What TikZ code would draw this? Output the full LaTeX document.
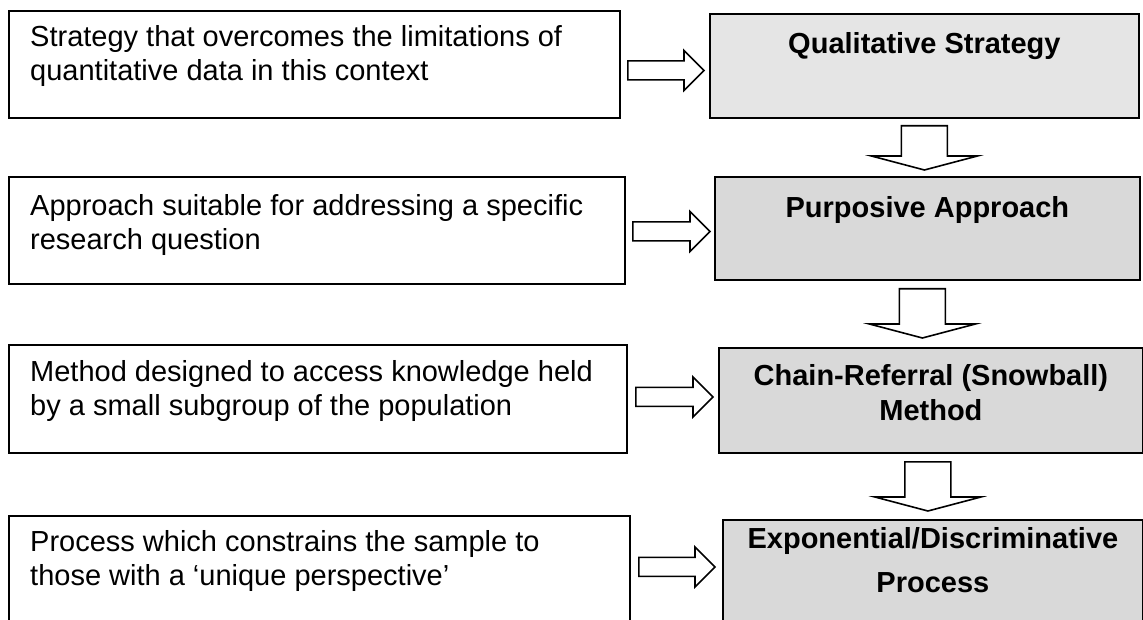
\documentclass[tikz,border=0pt]{standalone}
\usepackage{fontspec}
\setmainfont{Liberation Sans}
\usetikzlibrary{calc}

% hollow block arrows: #1 = tail point, #2 = tip point
\newcommand\rightblock[2]{%
  \draw[blockarrow] let \p1=(#1), \p2=(#2) in
    (\x1,\y1+9.5pt) -- (\x2-20pt,\y1+9.5pt) -- (\x2-20pt,\y1+20pt) -- (\x2,\y1)
    -- (\x2-20pt,\y1-20pt) -- (\x2-20pt,\y1-9.5pt) -- (\x1,\y1-9.5pt) -- cycle;}
\newcommand\downblock[2]{%
  \draw[blockarrow] let \p1=(#1), \p2=(#2) in
    (\x1-23pt,\y1) -- (\x1+23pt,\y1) -- (\x1+23pt,\y2+14pt) -- (\x1+53pt,\y2+14pt)
    -- (\x1,\y2) -- (\x1-53pt,\y2+14pt) -- (\x1-23pt,\y2+14pt) -- cycle;}

\begin{document}
\begin{tikzpicture}[x=1pt,y=-1pt,
  box/.style={draw=black, line width=1.8pt, rectangle, inner sep=0pt, anchor=north west},
  plainbox/.style={box, fill=white},
  lightbox/.style={box, fill=black!10},
  greybox/.style={box, fill=black!15},
  desc/.style={anchor=north west, inner sep=0pt, align=left,
    font=\fontsize{29}{34.5}\selectfont, execute at begin node=\rule{0pt}{23pt}},
  title/.style={anchor=north, inner sep=0pt, align=center,
    font=\fontsize{29}{35}\selectfont\bfseries, execute at begin node=\rule{0pt}{23pt}},
  blockarrow/.style={draw=black, line width=1.6pt, fill=white, line join=miter}
]
\useasboundingbox (0,0) rectangle (1143,620);
\clip (0,0) rectangle (1143,620);
\fill[white] (0,0) rectangle (1143,620);

% left-hand descriptions
\node[plainbox, minimum width=611pt, minimum height=107pt] (l1) at (8,10) {};
\node[plainbox, minimum width=616pt, minimum height=107pt] (l2) at (8,176) {};
\node[plainbox, minimum width=618pt, minimum height=108pt] (l3) at (8,344) {};
\node[plainbox, minimum width=621pt, minimum height=108pt] (l4) at (8,515) {};

% right-hand stages
\node[lightbox, minimum width=429pt, minimum height=104pt] (r1) at (709,13) {};
\node[greybox, minimum width=425pt, minimum height=103pt] (r2) at (714,176) {};
\node[greybox, minimum width=424pt, minimum height=105pt] (r3) at (718,347) {};
\node[greybox, minimum width=420pt, minimum height=110pt] (r4) at (722,519) {};

% texts
\node[desc] (t1) at ([xshift=22pt,yshift=-15pt]l1.north west)
  {Strategy that overcomes the limitations of\\quantitative data in this context};
\node[desc] (t2) at ([xshift=22pt,yshift=-18pt]l2.north west)
  {Approach suitable for addressing a specific\\research question};
\node[desc] (t3) at ([xshift=22pt,yshift=-16pt]l3.north west)
  {Method designed to access knowledge held\\by a small subgroup of the population};
\node[desc] (t4) at ([xshift=22pt,yshift=-15pt]l4.north west)
  {Process which constrains the sample to\\those with a ‘unique perspective’};

\node[title] (s1) at ([yshift=-17.5pt]r1.north) {Qualitative Strategy};
\node[title] (s2) at ([yshift=-18.5pt]r2.north) {Purposive Approach};
\node[title] (s3) at ([yshift=-17.5pt]r3.north) {Chain-Referral (Snowball)\\Method};
\node[title] (s4) at ([yshift=-8.5pt]r4.north) {Exponential/Discriminative\\[9pt]Process};

% arrows from each description to its stage
\rightblock{[xshift=7pt,yshift=-6pt]l1.east}{[xshift=-5pt]r1.west}
\rightblock{[xshift=7pt,yshift=-1pt]l2.east}{[xshift=-4pt]r2.west}
\rightblock{[xshift=8pt,yshift=2pt]l3.east}{[xshift=-5pt]r3.west}
\rightblock{[xshift=8pt,yshift=3pt]l4.east}{[xshift=-7pt]r4.west}

% arrows between stages
\downblock{[yshift=-7pt]r1.south}{[yshift=6pt]r2.north}
\downblock{[xshift=-5pt,yshift=-8pt]r2.south}{[yshift=9pt]r3.north}
\downblock{[xshift=-3pt,yshift=-8pt]r3.south}{[yshift=8pt]r4.north}
\end{tikzpicture}
\end{document}
